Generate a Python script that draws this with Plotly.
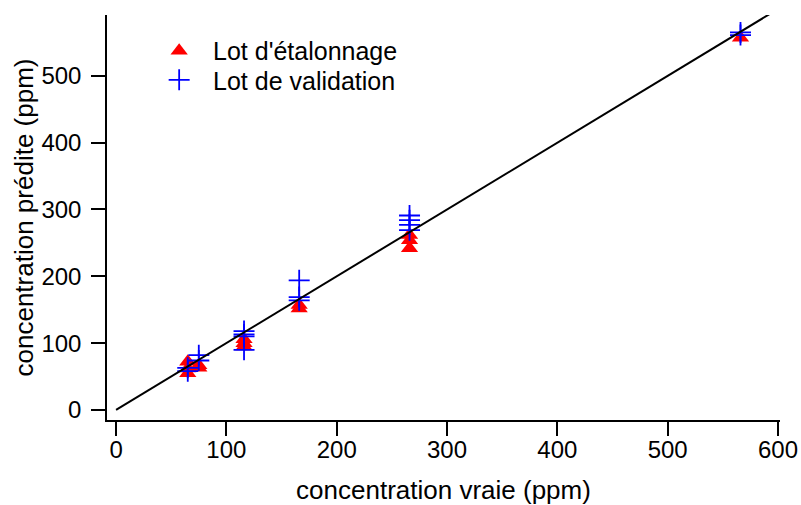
import plotly.graph_objects as go

# Calibration set (Lot d'étalonnage)
cal_x = [65, 65, 65, 75, 75, 116, 116, 116, 166, 166, 266, 266, 266, 566]
cal_y = [72, 62, 55, 67, 63, 106, 100, 95, 157, 152, 262, 254, 242, 557]

# Validation set (Lot de validation)
val_x = [65, 65, 75, 75, 116, 116, 116, 116, 166, 166, 166, 266, 266, 266, 266, 566, 566]
val_y = [63, 58, 82, 74, 118, 113, 110, 90, 194, 169, 164, 291, 284, 277, 269, 565, 561]

# Identity line
fit_x = [0, 593]
fit_y = [0, 593]

x_ticks = [0, 100, 200, 300, 400, 500, 600]
y_ticks = [0, 100, 200, 300, 400, 500]

FONT = "Liberation Sans, Arial, sans-serif"

fig = go.Figure()
fig.add_trace(go.Scatter(
    x=cal_x, y=cal_y, mode="markers", name="\u00a0\u00a0Lot d'étalonnage", legend="legend",
    marker=dict(symbol="triangle-up", size=15, color="#ff0000", line=dict(width=0)),
))
fig.add_trace(go.Scatter(
    x=val_x, y=val_y, mode="markers", name="\u00a0\u00a0Lot de validation", legend="legend2",
    marker=dict(symbol="cross-thin", size=15, color="#0000ff",
                line=dict(width=1.8, color="#0000ff")),
))
fig.add_trace(go.Scatter(
    x=fit_x, y=fit_y, mode="lines", showlegend=False,
    line=dict(color="black", width=2),
))

leg_common = dict(xanchor="left", yanchor="top", bgcolor="rgba(0,0,0,0)",
                  font=dict(size=25), itemsizing="trace")

fig.update_layout(
    width=801, height=505,
    margin=dict(l=107, r=21, t=15, b=85, autoexpand=False),
    paper_bgcolor="white", plot_bgcolor="white",
    font=dict(family=FONT, size=24, color="black"),
    showlegend=True,
    legend=dict(x=0.0775, y=0.968, **leg_common),
    legend2=dict(x=0.0775, y=0.896, **leg_common),
    xaxis=dict(
        range=[-8.2, 601.8], tickvals=x_ticks, ticktext=[str(v) for v in x_ticks],
        showgrid=False, zeroline=False, showline=True, linecolor="black", linewidth=1.5,
        ticks="outside", ticklen=14, tickwidth=1.5, tickcolor="black", automargin=False,
        ticklabelstandoff=-7,
        tickfont=dict(size=24), title=dict(text="concentration vraie (ppm)", font=dict(size=26), standoff=24),
    ),
    yaxis=dict(
        range=[-15, 591], tickvals=y_ticks, ticktext=[str(v) for v in y_ticks],
        showgrid=False, zeroline=False, showline=True, linecolor="black", linewidth=1.5,
        ticks="outside", ticklen=14, tickwidth=1.5, tickcolor="black", automargin=False,
        ticklabelstandoff=5,
        tickfont=dict(size=24), title=dict(text="concentration prédite (ppm)", font=dict(size=26), standoff=0),
    ),
)

fig.write_html("out.html", config={"displayModeBar": False},
               post_script="document.body.style.margin='0';document.body.style.padding='0';")
